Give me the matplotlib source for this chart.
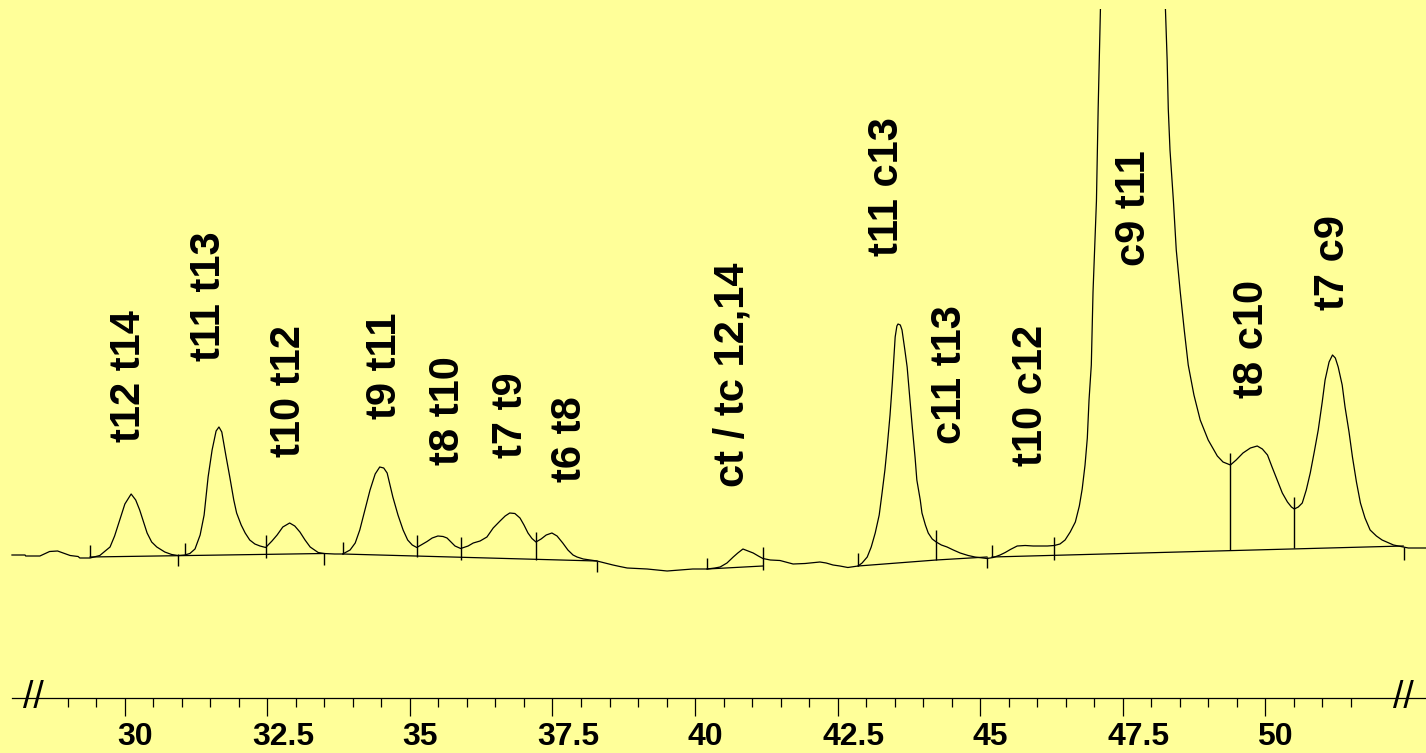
import matplotlib.pyplot as plt
import matplotlib.transforms as mtransforms
import numpy as np

# detector trace (time in min, signal in arbitrary units)
times = [28.02, 28.25, 28.26, 28.51, 28.68, 28.82, 29.04, 29.18, 29.21, 29.39,
         29.56, 29.74, 29.82, 29.91, 30.00, 30.11, 30.19, 30.26, 30.39, 30.47,
         30.56, 30.70, 30.82, 30.93, 31.05, 31.14, 31.23, 31.32, 31.39, 31.46,
         31.53, 31.60, 31.65, 31.70, 31.77, 31.84, 31.91, 31.96, 32.04, 32.11,
         32.19, 32.28, 32.37, 32.47, 32.58, 32.67, 32.77, 32.89, 32.98, 33.07,
         33.16, 33.25, 33.39, 33.49, 33.68, 33.82, 33.95, 34.04, 34.12, 34.21,
         34.30, 34.39, 34.47, 34.54, 34.60, 34.70, 34.79, 34.88, 34.96, 35.04,
         35.12, 35.21, 35.30, 35.39, 35.49, 35.58, 35.65, 35.72, 35.79, 35.89,
         36.02, 36.11, 36.23, 36.35, 36.46, 36.58, 36.67, 36.75, 36.84, 36.93,
         37.00, 37.07, 37.14, 37.21, 37.30, 37.39, 37.49, 37.58, 37.68, 37.77,
         37.86, 37.93, 38.04, 38.16, 38.28, 38.42, 38.56, 38.68, 38.81, 38.98,
         39.16, 39.33, 39.51, 39.74, 39.96, 40.21, 40.35, 40.44, 40.56, 40.67,
         40.75, 40.84, 40.93, 41.02, 41.11, 41.19, 41.32, 41.49, 41.72, 41.93,
         42.02, 42.19, 42.30, 42.42, 42.54, 42.68, 42.86, 42.93, 43.02, 43.09,
         43.16, 43.23, 43.28, 43.33, 43.37, 43.42, 43.46, 43.49, 43.51, 43.54,
         43.56, 43.60, 43.63, 43.68, 43.72, 43.77, 43.81, 43.86, 43.89, 43.95,
         43.98, 44.04, 44.09, 44.16, 44.23, 44.32, 44.42, 44.53, 44.65, 44.79,
         44.91, 45.12, 45.23, 45.35, 45.44, 45.53, 45.65, 45.79, 45.93, 46.05,
         46.18, 46.30, 46.40, 46.49, 46.58, 46.67, 46.74, 46.79, 46.84, 46.88,
         46.91, 46.95, 46.98, 47.04, 47.07, 47.09, 47.11, 47.65, 48.25, 48.28,
         48.30, 48.33, 48.39, 48.44, 48.51, 48.58, 48.65, 48.75, 48.86, 49.00,
         49.16, 49.26, 49.39, 49.49, 49.61, 49.74, 49.86, 49.95, 50.04, 50.12,
         50.21, 50.30, 50.39, 50.46, 50.51, 50.58, 50.65, 50.72, 50.79, 50.86,
         50.93, 51.00, 51.05, 51.12, 51.18, 51.23, 51.28, 51.35, 51.40, 51.47,
         51.53, 51.60, 51.67, 51.75, 51.84, 51.95, 52.05, 52.25, 52.42, 52.51,
         52.82]
signal = [1, 1, 0, 0, 4.5, 5, 0.5, -0.5, -2, -2,
          0.5, 9, 20, 36, 52, 62, 56, 46, 23, 14,
          9, 4, 1.5, 0.5, 1, 2.5, 7, 21, 41, 79,
          106, 125, 129, 124, 101, 79, 56, 43, 31, 23,
          16, 12, 10, 8.5, 15, 21, 29, 33, 30, 24,
          16, 9, 3.5, 2.5, 2, 2, 6, 13, 26, 46,
          66, 82, 89, 88, 83, 59, 41, 26, 16, 11,
          8.5, 11.5, 14.5, 18, 20, 19.5, 18, 14, 10, 7.5,
          10, 13, 15, 19, 28, 35, 40, 43, 42.5, 38,
          31, 23, 17.5, 14, 17, 21, 23, 20, 13, 6,
          1, -1, -3, -4, -5, -7, -9, -10.5, -12, -12.5,
          -13, -14, -15, -14, -13, -13, -12, -11, -7, -1,
          3, 7, 5, 3, 0, -2.5, -4, -4.5, -8, -7.5,
          -7, -6, -7, -9, -10, -11.5, -10, -7, -1, 9,
          23, 41, 63, 86, 109, 141, 173, 201, 219, 230,
          232, 231, 226, 206, 189, 156, 129, 98, 76, 56,
          43, 31, 23, 17, 14, 11, 9, 6, 3, 0.5,
          -1, -2.5, -1.5, 1, 3.5, 6.5, 10, 10.5, 10, 10,
          10, 10.5, 12, 16, 24, 34, 50, 67, 91, 118,
          156, 191, 264, 355, 447, 496, 547, 3000, 547, 496,
          447, 406, 355, 306, 264, 226, 191, 161, 136, 116,
          100, 94, 91, 96, 103, 108, 110, 107, 101, 89,
          76, 63, 54, 49, 47, 49, 53, 66, 83, 104,
          126, 154, 176, 194, 201, 198, 189, 171, 149, 124,
          99, 74, 53, 38, 26, 20, 16, 11, 9, 8,
          8]

# peak names and where they are written
peak_names = ["t12 t14", "t11 t13", "t10 t12", "t9 t11", "t8 t10", "t7 t9", "t6 t8",
              "ct / tc 12,14", "t11 c13", "c11 t13", "t10 c12", "c9 t11", "t8 c10", "t7 c9"]
name_times = [30.07, 31.47, 32.88, 34.56, 35.66, 36.77, 37.81,
              40.66, 43.37, 44.48, 45.89, 47.69, 49.77, 51.19]
name_levels = [180, 260, 165, 190, 145, 141, 117,
               181, 369, 181, 161, 348, 217, 293]

# integration marks: time, top and bottom of each vertical stroke
drop_times = [29.39, 30.93, 31.05, 32.47, 33.49, 33.82, 35.12, 35.89, 37.21, 38.28,
              40.21, 41.19, 42.86, 44.23, 45.12, 45.21, 46.30, 49.39, 50.51, 52.44]
drop_top = [11, 2, 13, 21, 3, 14, 21, 19, 24, -5,
            -2, 9, 3, 26, -1, 11, 19, 103, 59, 9]
drop_bottom = [-1, -10, 1, -2, -9, 2, -1, -4, -4, -16,
               -13, -14, -10, -4, -12, -1, -4, 6, 8, -4]

# integration baselines
base_times = [[29.39, 33.49], [33.82, 38.28], [40.21, 41.19], [42.86, 44.23, 45.12], [45.21, 52.42]]
base_levels = [[-1, 2.5], [2, -5], [-13, -10], [-10, -4, -1], [-1, 10]]

major_ticks = [30, 32.5, 35, 37.5, 40, 42.5, 45, 47.5, 50]
tick_labels = ["30", "32.5", "35", "37.5", "40", "42.5", "45", "47.5", "50"]
minor_ticks = np.arange(29, 52, 0.5)

bg = "#FFFF99"
axis_level = -142

fig = plt.figure(figsize=(14.26, 7.53), dpi=100, facecolor=bg)
ax = fig.add_axes([0, 0, 1, 744 / 753])
ax.set_facecolor(bg)

ax.plot(times, signal, color="black", lw=0.9)
for t, l in zip(base_times, base_levels):
    ax.plot(t, l, color="black", lw=0.9)
ax.vlines(drop_times, drop_bottom, drop_top, color="black", lw=1.0)

for name, t, lev in zip(peak_names, name_times, name_levels):
    ax.text(t, lev, name, rotation=90, ha="center", va="center",
            fontsize=30, fontweight="bold", family="Liberation Sans")

ax.set_xlim(27.81, 52.82)
ax.set_ylim(-197, 547)

for s in ["top", "left", "right"]:
    ax.spines[s].set_visible(False)
ax.spines["bottom"].set_position(("data", axis_level))
ax.spines["bottom"].set_bounds(28.02, 52.82)
ax.spines["bottom"].set_linewidth(0.9)
ax.set_yticks([])
ax.set_xticks(major_ticks, [])
ax.set_xticks(minor_ticks, minor=True)
ax.tick_params(axis="x", which="major", direction="out", length=13, width=0.9)
ax.tick_params(axis="x", which="minor", direction="out", length=6.5, width=0.9)

# tick labels sit a little right of their ticks in the original
for t, lab in zip(major_ticks, tick_labels):
    dx = 0.10 if len(lab) < 3 else 0.16
    shift = mtransforms.ScaledTranslation(dx, -0.24, fig.dpi_scale_trans)
    ax.text(t, axis_level, lab, ha="center", va="top", fontsize=23, fontweight="bold",
            family="Liberation Sans", transform=ax.transData + shift)

# axis break marks
for t in [28.39, 52.42]:
    ax.text(t, axis_level, "//", ha="center", va="center", fontsize=27,
            family="Liberation Sans")

fig.savefig("out.png", dpi=100, facecolor=bg)
